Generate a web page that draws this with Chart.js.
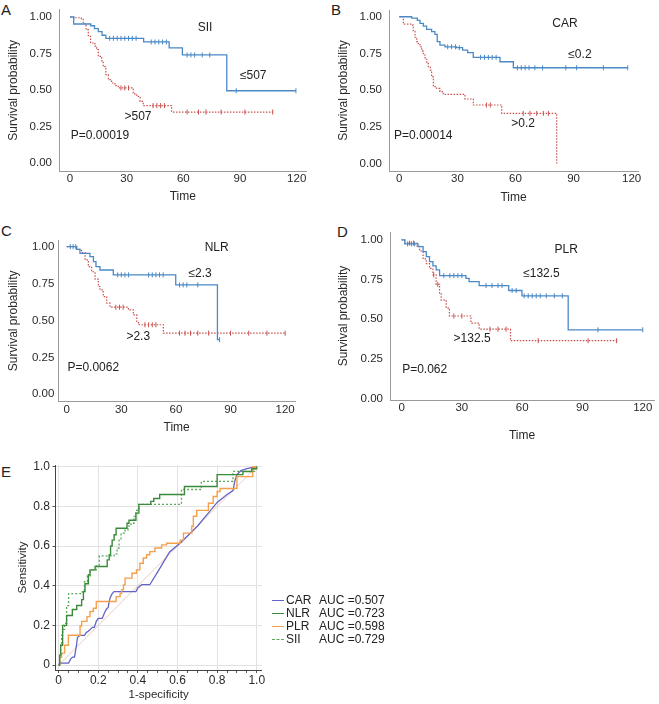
<!DOCTYPE html>
<html>
<head>
<meta charset="utf-8">
<script src="https://cdn.jsdelivr.net/npm/chart.js@4.4.1/dist/chart.umd.min.js"></script>
<style>
body { margin:0; background:#fff; width:659px; height:704px; position:relative; overflow:hidden; font-family:"Liberation Sans", Arial, sans-serif; color:#222; }
canvas { position:absolute; }
.tag { position:absolute; font-size:15px; line-height:15px; }
.leg { position:absolute; left:272px; font-size:12px; line-height:13px; white-space:nowrap; width:140px; height:13px; }
.leg i { position:absolute; left:0; top:6px; width:12px; height:0; border-top:1.3px solid; }
.leg b { position:absolute; left:14px; font-weight:normal; }
.leg em { position:absolute; left:47px; font-style:normal; }
</style>
</head>
<body>
<div class="tag" style="left:1px;top:2px">A</div>
<div class="tag" style="left:331px;top:2px">B</div>
<div class="tag" style="left:1px;top:223px">C</div>
<div class="tag" style="left:337px;top:224px">D</div>
<div class="tag" style="left:1px;top:464px">E</div>

<canvas id="kmA" width="320" height="205" style="left:0;top:0"></canvas>
<canvas id="kmB" width="329" height="205" style="left:330px;top:0"></canvas>
<canvas id="kmC" width="320" height="215" style="left:0;top:225px"></canvas>
<canvas id="kmD" width="329" height="225" style="left:330px;top:225px"></canvas>
<canvas id="roc" width="275" height="249" style="left:0;top:455px"></canvas>

<div class="leg" style="top:594px"><i style="border-color:#6464c4"></i><b>CAR</b><em>AUC =0.507</em></div>
<div class="leg" style="top:607px"><i style="border-color:#3b8a3b"></i><b>NLR</b><em>AUC =0.723</em></div>
<div class="leg" style="top:620px"><i style="border-color:#f5a04c"></i><b>PLR</b><em>AUC =0.598</em></div>
<div class="leg" style="top:633px"><i style="border-color:#5aaa5a;border-top-style:dashed"></i><b>SII</b><em>AUC =0.729</em></div>

<script>
// ---- survival curves (time in months, survival probability) ----
const kmTimeTicks = [0, 30, 60, 90, 120];
const kmSurvTicks = [0, 0.25, 0.5, 0.75, 1];

// A: SII
const siiLowT = [0, 2, 11, 13, 15, 17, 19, 39, 52.5, 59.5, 83, 119.6];
const siiLowS = [1, 0.952, 0.94, 0.92, 0.90, 0.875, 0.854, 0.829, 0.788, 0.74, 0.495, 0.495];
const siiLowCens = [21, 23, 25, 27, 29, 31, 33, 35, 43, 45, 47, 49, 51, 62, 64, 66, 70, 74, 88, 119.6];
const siiHighT = [0, 2, 6, 7, 8.5, 9.7, 10.9, 13.2, 14.1, 15, 16.8, 17.6, 19, 20.3, 22, 23.8, 25.6, 33.5, 35.3, 37.1, 38.8, 53.8, 107.3];
const siiHighS = [1, 0.995, 0.989, 0.954, 0.913, 0.868, 0.822, 0.80, 0.776, 0.73, 0.70, 0.66, 0.605, 0.571, 0.548, 0.53, 0.514, 0.473, 0.457, 0.422, 0.393, 0.349, 0.349];
const siiHighCens = [27, 29, 31, 44, 46, 48, 50, 62, 68, 72, 80, 92.6, 107.3];

// B: CAR
const carLowT = [0, 6.4, 9.3, 10.7, 12.4, 14.1, 16.7, 18.4, 19.6, 21, 23.6, 29.6, 32.7, 35.3, 38.2, 52, 58.9, 118];
const carLowS = [1, 0.99, 0.975, 0.955, 0.936, 0.914, 0.898, 0.88, 0.83, 0.807, 0.795, 0.789, 0.773, 0.755, 0.723, 0.693, 0.652, 0.652];
const carLowCens = [25, 27, 29, 31, 42, 44, 46, 48, 50, 61, 63, 65, 67, 70, 74, 86, 91.6, 105.4, 118];
const carHighT = [0, 2.1, 6.4, 7.2, 8.1, 9, 9.8, 10.7, 11.6, 12.4, 13.3, 14.2, 15, 16, 16.7, 17.6, 19.3, 21, 22.7, 33.9, 38.2, 52.9, 81.3];
const carHighS = [1, 0.95, 0.943, 0.90, 0.86, 0.83, 0.81, 0.795, 0.765, 0.739, 0.71, 0.682, 0.66, 0.636, 0.59, 0.523, 0.511, 0.49, 0.47, 0.439, 0.398, 0.341, 0];
const carHighCens = [45, 47, 64, 67.5, 71, 74.4, 77];

// C: NLR
const nlrLowT = [0, 5.5, 7.3, 12.8, 14.7, 16.1, 18.3, 25.6, 59.9, 82.8, 84];
const nlrLowS = [1, 0.982, 0.955, 0.932, 0.899, 0.865, 0.842, 0.809, 0.741, 0.37, 0.37];
const nlrLowCens = [2, 3.5, 5, 28, 30, 32, 34, 45, 47, 49, 51, 53, 62, 64, 66, 72, 84];
const nlrHighT = [0, 5.5, 8.2, 10.1, 11.9, 13.7, 15.6, 17.4, 18.3, 20.1, 22, 23.8, 33.9, 36.6, 38.5, 39.4, 53.1, 120];
const nlrHighS = [1, 0.982, 0.96, 0.91, 0.865, 0.83, 0.78, 0.73, 0.707, 0.662, 0.617, 0.59, 0.572, 0.538, 0.493, 0.471, 0.414, 0.414];
const nlrHighCens = [27, 29, 31, 43, 45, 47, 49, 62, 65, 68, 72, 78, 90, 100, 110, 120];

// D: PLR
const plrLowT = [0, 1.6, 8.2, 10.7, 12.3, 13.9, 15.6, 17.2, 18.9, 32, 33.6, 38.6, 53.3, 59.9, 82.9, 120];
const plrLowS = [1, 0.975, 0.958, 0.926, 0.895, 0.863, 0.836, 0.811, 0.775, 0.758, 0.737, 0.712, 0.681, 0.647, 0.433, 0.433];
const plrLowCens = [3, 5, 6.5, 21, 24, 26, 28, 30, 42, 45, 48, 50, 55, 57, 61, 63, 65, 67, 69, 72, 76, 80, 97.7, 120];
const plrHighT = [0, 1.6, 7.7, 9, 10.7, 12.3, 13.9, 15.6, 17.2, 18.9, 19.7, 22.2, 23.8, 34.5, 38.6, 54.2, 107];
const plrHighS = [1, 0.98, 0.96, 0.93, 0.88, 0.85, 0.82, 0.78, 0.72, 0.66, 0.62, 0.57, 0.52, 0.475, 0.437, 0.364, 0.364];
const plrHighCens = [4, 6, 16, 18, 26, 30, 44, 48, 52, 68, 92.8, 107];

// ---- ROC curves (1-specificity, sensitivity) ----
const carFpr = [0, 0.005, 0.05, 0.06, 0.07, 0.08, 0.085, 0.09, 0.095, 0.11, 0.13, 0.14, 0.15, 0.16, 0.17, 0.18, 0.19, 0.2, 0.22, 0.23, 0.24, 0.25, 0.255, 0.26, 0.27, 0.28, 0.39, 0.40, 0.42, 0.46, 0.50, 0.53, 0.56, 0.62, 0.70, 0.75, 0.80, 0.85, 0.88, 0.89, 0.90, 0.92, 0.95, 1];
const carTpr = [0, 0.01, 0.01, 0.03, 0.04, 0.04, 0.07, 0.10, 0.14, 0.15, 0.15, 0.165, 0.17, 0.18, 0.19, 0.19, 0.22, 0.235, 0.235, 0.26, 0.28, 0.29, 0.32, 0.34, 0.36, 0.37, 0.37, 0.39, 0.405, 0.405, 0.47, 0.52, 0.57, 0.62, 0.70, 0.76, 0.82, 0.86, 0.88, 0.93, 0.96, 0.98, 0.99, 1];
const nlrFpr = [0, 0.005, 0.01, 0.02, 0.04, 0.069, 0.091, 0.116, 0.125, 0.133, 0.15, 0.158, 0.184, 0.245, 0.255, 0.262, 0.27, 0.28, 0.29, 0.345, 0.355, 0.39, 0.405, 0.465, 0.48, 0.51, 0.635, 0.80, 0.93, 0.975, 1];
const nlrTpr = [0, 0.05, 0.10, 0.20, 0.25, 0.28, 0.30, 0.33, 0.37, 0.41, 0.455, 0.48, 0.497, 0.53, 0.555, 0.60, 0.63, 0.657, 0.69, 0.715, 0.73, 0.766, 0.81, 0.825, 0.84, 0.86, 0.90, 0.96, 0.976, 0.99, 1];
const plrFpr = [0, 0.005, 0.015, 0.03, 0.049, 0.108, 0.116, 0.143, 0.158, 0.175, 0.19, 0.29, 0.31, 0.318, 0.327, 0.335, 0.37, 0.393, 0.41, 0.427, 0.444, 0.46, 0.486, 0.52, 0.545, 0.613, 0.63, 0.672, 0.68, 0.697, 0.756, 0.78, 0.80, 0.815, 0.90, 0.98, 1];
const plrTpr = [0, 0.04, 0.06, 0.10, 0.15, 0.197, 0.22, 0.244, 0.27, 0.286, 0.32, 0.345, 0.362, 0.38, 0.404, 0.438, 0.463, 0.48, 0.513, 0.54, 0.556, 0.572, 0.59, 0.606, 0.614, 0.63, 0.665, 0.70, 0.75, 0.78, 0.816, 0.85, 0.875, 0.89, 0.95, 1, 1];
const siiFpr = [0, 0.005, 0.01, 0.015, 0.02, 0.03, 0.04, 0.05, 0.12, 0.13, 0.145, 0.16, 0.19, 0.205, 0.28, 0.295, 0.305, 0.315, 0.335, 0.35, 0.365, 0.38, 0.39, 0.405, 0.62, 0.72, 0.88, 0.99, 1];
const siiTpr = [0, 0.04, 0.10, 0.15, 0.18, 0.21, 0.30, 0.36, 0.37, 0.42, 0.45, 0.48, 0.50, 0.55, 0.56, 0.59, 0.63, 0.665, 0.68, 0.70, 0.715, 0.75, 0.78, 0.81, 0.885, 0.926, 0.976, 0.99, 1];
const refFpr = [0, 1];
const refTpr = [0, 1];
const rocTicks = [0, 0.2, 0.4, 0.6, 0.8, 1];
const rocTickText = ['0', '0.2', '0.4', '0.6', '0.8', '1.0'];

const BLUE = '#4a89c5';
const RED = '#c8504c';
const FONT = '"Liberation Sans", Arial, sans-serif';
Chart.defaults.font.family = FONT;
Chart.defaults.color = '#2a2a2a';

function survAt(T, S, t) {
    let s = S[0];
    for (let i = 0; i < T.length; i++) if (T[i] <= t) s = S[i];
    return s;
}

function pts(xs, ys) {
    return xs.map((x, i) => ({ x: x, y: ys[i] }));
}

function notesPlugin(notes) {
    return {
        id: 'notes',
        afterDatasetsDraw(chart) {
            const { ctx, scales } = chart;
            ctx.save();
            ctx.font = '12px ' + FONT;
            ctx.fillStyle = '#222';
            ctx.textAlign = 'center';
            ctx.textBaseline = 'middle';
            notes.forEach(n => ctx.fillText(n.text, scales.x.getPixelForValue(n.x), scales.y.getPixelForValue(n.y)));
            ctx.restore();
        }
    };
}

function kmChart(id, c) {
    const datasets = [
        { data: pts(c.lowT, c.lowS), stepped: true, borderColor: BLUE, borderWidth: 1.3, pointRadius: 0, fill: false },
        { data: pts(c.highT, c.highS), stepped: true, borderColor: RED, borderWidth: 1.2, borderDash: [1.5, 1.5], pointRadius: 0, fill: false },
        { data: c.lowCens.map(t => ({ x: t, y: survAt(c.lowT, c.lowS, t) })), showLine: false,
          pointStyle: 'line', pointRotation: 90, pointRadius: 2.5, pointBorderWidth: 1, pointBorderColor: BLUE },
        { data: c.highCens.map(t => ({ x: t, y: survAt(c.highT, c.highS, t) })), showLine: false,
          pointStyle: 'line', pointRotation: 90, pointRadius: 2.5, pointBorderWidth: 1, pointBorderColor: RED }
    ];
    new Chart(document.getElementById(id), {
        type: 'line',
        data: { datasets: datasets },
        options: {
            responsive: false,
            animation: false,
            events: [],
            layout: { padding: c.pad },
            plugins: { legend: { display: false }, tooltip: { enabled: false } },
            scales: {
                x: {
                    type: 'linear', min: c.xr[0], max: c.xr[1],
                    grid: { display: false, drawTicks: false },
                    border: { color: '#9a9a9a' },
                    ticks: { font: { size: 11.5 }, padding: c.xtp, maxRotation: 0, autoSkip: false },
                    afterBuildTicks: s => { s.ticks = kmTimeTicks.map(v => ({ value: v })); },
                    afterFit: s => { s.height = c.xh; s.paddingLeft = 0; s.paddingRight = 0; },
                    title: { display: true, text: 'Time', font: { size: 12 }, padding: { top: 0, bottom: c.xtb } }
                },
                y: {
                    type: 'linear', min: c.yr[0], max: c.yr[1],
                    grid: { display: false, drawTicks: false },
                    border: { color: '#9a9a9a' },
                    ticks: { font: { size: 11.5 }, padding: c.ytp, callback: v => v.toFixed(2) },
                    afterBuildTicks: s => { s.ticks = kmSurvTicks.map(v => ({ value: v })); },
                    afterFit: s => { s.width = c.yw; s.paddingTop = 0; s.paddingBottom = 0; },
                    title: { display: true, text: 'Survival probability', font: { size: 12 }, padding: { top: 6.3, bottom: 0 } }
                }
            }
        },
        plugins: [notesPlugin(c.notes)]
    });
}

kmChart('kmA', {
    lowT: siiLowT, lowS: siiLowS, lowCens: siiLowCens,
    highT: siiHighT, highS: siiHighS, highCens: siiHighCens,
    pad: { left: 0, top: 9, right: 13.3, bottom: 0 },
    xr: [-5.8, 125.3], yr: [-0.0596, 1.0548], xh: 33.3, yw: 59, xtp: 0.5, xtb: 0.8, ytp: 7,
    notes: [{ text: 'SII', x: 71.5, y: 0.925 }, { text: '\u2264507', x: 97, y: 0.596 },
            { text: '>507', x: 36, y: 0.315 }, { text: 'P=0.00019', x: 15.9, y: 0.185 }]
});

kmChart('kmB', {
    lowT: carLowT, lowS: carLowS, lowCens: carLowCens,
    highT: carHighT, highS: carHighS, highCens: carHighCens,
    pad: { left: 0, top: 10, right: 21, bottom: 0 },
    xr: [-5.32, 123.3], yr: [-0.052, 1.046], xh: 34, yw: 59, xtp: 1, xtb: 0.5, ytp: 7,
    notes: [{ text: 'CAR', x: 85.6, y: 0.95 }, { text: '\u22640.2', x: 93.3, y: 0.738 },
            { text: '>0.2', x: 64, y: 0.27 }, { text: 'P=0.00014', x: 12.4, y: 0.186 }]
});

kmChart('kmC', {
    lowT: nlrLowT, lowS: nlrLowS, lowCens: nlrLowCens,
    highT: nlrHighT, highS: nlrHighS, highCens: nlrHighCens,
    pad: { left: 0, top: 15, right: 25, bottom: 0 },
    xr: [-4.6, 125.4], yr: [-0.05, 1.045], xh: 38.3, yw: 58.3, xtp: 1.5, xtb: 4.8, ytp: 4,
    notes: [{ text: 'NLR', x: 82.4, y: 0.99 }, { text: '\u22642.3', x: 73.3, y: 0.82 },
            { text: '>2.3', x: 39.3, y: 0.39 }, { text: 'P=0.0062', x: 14.6, y: 0.183 }]
});

kmChart('kmD', {
    lowT: plrLowT, lowS: plrLowS, lowCens: plrLowCens,
    highT: plrHighT, highS: plrHighS, highCens: plrHighCens,
    pad: { left: 0, top: 7, right: 2.3, bottom: 0 },
    xr: [-5.76, 125.6], yr: [-0.01, 1.05], xh: 50, yw: 60, xtp: 0.5, xtb: 6.8, ytp: 7,
    notes: [{ text: 'PLR', x: 81.9, y: 0.937 }, { text: '\u2264132.5', x: 69.6, y: 0.785 },
            { text: '>132.5', x: 35.1, y: 0.38 }, { text: 'P=0.062', x: 11.5, y: 0.18 }]
});

// ---- ROC panel ----
function isMajor(v) {
    return rocTicks.some(m => Math.abs(m - v) < 1e-6);
}
const minorTicks = [];
for (let i = 0; i <= 20; i++) minorTicks.push(Math.round(i * 5) / 100);

new Chart(document.getElementById('roc'), {
    type: 'line',
    data: {
        datasets: [
            { data: pts(nlrFpr, nlrTpr), stepped: true, borderColor: '#3b8a3b', borderWidth: 1.4, pointRadius: 0, fill: false },
            { data: pts(siiFpr, siiTpr), stepped: true, borderColor: '#5aaa5a', borderWidth: 1.3, borderDash: [2, 2], pointRadius: 0, fill: false },
            { data: pts(plrFpr, plrTpr), stepped: true, borderColor: '#f5a04c', borderWidth: 1.4, pointRadius: 0, fill: false },
            { data: pts(carFpr, carTpr), borderColor: '#6464c4', borderWidth: 1.3, pointRadius: 0, fill: false },
            { data: pts(refFpr, refTpr), borderColor: '#e8c9bc', borderWidth: 1, pointRadius: 0, fill: false }
        ]
    },
    options: {
        responsive: false,
        animation: false,
        events: [],
        layout: { padding: { left: 0, top: 10, right: 13.3, bottom: 0 } },
        plugins: { legend: { display: false }, tooltip: { enabled: false } },
        scales: {
            x: {
                type: 'linear', min: -0.016, max: 1.025,
                grid: { color: ctx => isMajor(ctx.tick.value) ? '#e2e2e2' : 'rgba(0,0,0,0)', tickColor: '#555', tickLength: 3 },
                border: { color: '#444' },
                ticks: { font: { size: 12 }, padding: 0, maxRotation: 0, autoSkip: false,
                         callback: v => { const k = rocTicks.findIndex(m => Math.abs(m - v) < 1e-6); return k < 0 ? '' : rocTickText[k]; } },
                afterBuildTicks: s => { s.ticks = minorTicks.map(v => ({ value: v })); },
                afterFit: s => { s.height = 34; s.paddingLeft = 0; s.paddingRight = 0; },
                title: { display: true, text: '1-specificity', font: { size: 11.5 }, padding: { top: 0, bottom: 2.1 } }
            },
            y: {
                type: 'linear', min: -0.025, max: 1.0086,
                grid: { color: '#e2e2e2', tickColor: '#555', tickLength: 3 },
                border: { color: '#444' },
                ticks: { font: { size: 12 }, padding: 2.5,
                         callback: v => { const k = rocTicks.findIndex(m => Math.abs(m - v) < 1e-6); return k < 0 ? '' : rocTickText[k]; } },
                afterBuildTicks: s => { s.ticks = rocTicks.map(v => ({ value: v })); },
                afterFit: s => { s.width = 55.5; s.paddingTop = 0; s.paddingBottom = 0; },
                title: { display: true, text: 'Sensitivity', font: { size: 11.5 }, padding: { top: 16.4, bottom: 0 } }
            }
        }
    }
});
</script>
</body>
</html>
